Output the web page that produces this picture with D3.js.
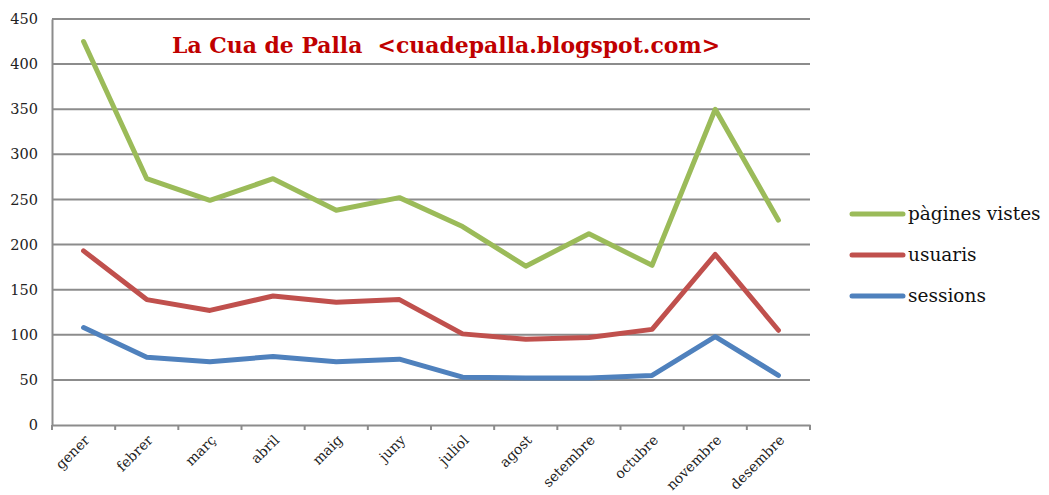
<!DOCTYPE html>
<html><head><meta charset="utf-8">
<script src="https://cdn.jsdelivr.net/npm/d3@7"></script>
<style>body{margin:0;background:#fff}</style>
</head><body>
<script>
const months = ["gener","febrer","març","abril","maig","juny","juliol","agost","setembre","octubre","novembre","desembre"];
const pagines = [425,273,249,273,238,252,220,176,212,177,350,227];
const usuaris = [193,139,127,143,136,139,101,95,97,106,189,105];
const sessions = [108,75,70,76,70,73,53,52,52,55,98,55];
const yTicks = [0,50,100,150,200,250,300,350,400,450];
const seriesNames = ["pàgines vistes","usuaris","sessions"];
const seriesColors = ["#9bbb59","#c0504d","#4f81bd"];
const title = "La Cua de Palla  <cuadepalla.blogspot.com>";

const W=1049,H=495;
const svg=d3.select("body").append("svg").attr("width",W).attr("height",H);
const font="'DejaVu Serif', serif";
const x=d3.scaleBand().domain(months).range([52,810]);
const y=d3.scaleLinear().domain([0,450]).range([425,19]);

// gridlines
svg.append("g").selectAll("line").data(yTicks.filter(d=>d>0)).join("line")
  .attr("x1",52).attr("x2",810).attr("y1",d=>y(d)).attr("y2",d=>y(d))
  .attr("stroke","#8c8c8c").attr("stroke-width",2);

// y axis
const ya=svg.append("g").attr("transform","translate(52,0)")
  .call(d3.axisLeft(y).tickValues(yTicks).tickSize(0).tickPadding(14));
ya.select(".domain").attr("stroke","#8c8c8c").attr("stroke-width",2);
ya.selectAll("text").attr("font-family",font).attr("font-size",14.5).attr("fill","#222");

// x axis
const xa=svg.append("g").attr("transform","translate(0,425)")
  .call(d3.axisBottom(x).tickSize(0).tickSizeOuter(0));
xa.select(".domain").attr("stroke","#8c8c8c").attr("stroke-width",2);
xa.selectAll(".tick line").remove();
const edges=months.map(m=>x(m)).concat([810]);
xa.append("g").selectAll("line").data(edges).join("line")
  .attr("x1",d=>d).attr("x2",d=>d).attr("y1",0).attr("y2",5)
  .attr("stroke","#8c8c8c").attr("stroke-width",2);
xa.selectAll(".tick text").attr("font-family",font).attr("font-size",14).attr("fill","#222")
  .attr("text-anchor","end").attr("dy",null).attr("y",null)
  .attr("transform","translate(7,16) rotate(-45)");

// lines
const data=[pagines,usuaris,sessions];
const line=d3.line().x((d,i)=>x(months[i])+x.bandwidth()/2).y(d=>y(d));
svg.append("g").selectAll("path").data(data).join("path")
  .attr("d",line).attr("fill","none")
  .attr("stroke",(d,i)=>seriesColors[i]).attr("stroke-width",5)
  .attr("stroke-linecap","round").attr("stroke-linejoin","round");

// title
svg.append("text").attr("x",446).attr("y",53).attr("text-anchor","middle")
  .attr("font-family",font).attr("font-weight","bold").attr("font-size",22)
  .attr("xml:space","preserve").style("white-space","pre")
  .attr("fill","#c00000").attr("textLength",548).attr("lengthAdjust","spacingAndGlyphs").text(title);

// legend
const lg=svg.append("g").selectAll("g").data(seriesNames).join("g")
  .attr("transform",(d,i)=>`translate(0,${214+i*41})`);
lg.append("line").attr("x1",852).attr("x2",903).attr("stroke",(d,i)=>seriesColors[i])
  .attr("stroke-width",5).attr("stroke-linecap","round");
lg.append("text").attr("x",908).attr("y",6).attr("font-family",font).attr("font-size",18.5)
  .attr("fill","#111").text(d=>d);
</script>
</body></html>
